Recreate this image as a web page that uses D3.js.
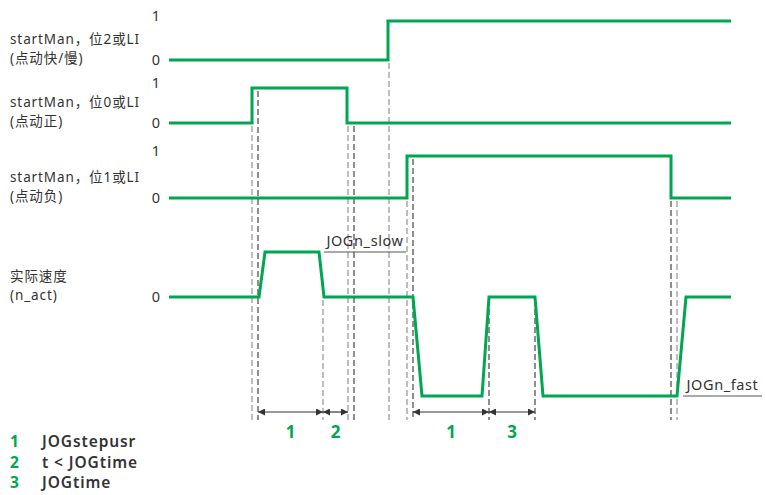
<!DOCTYPE html>
<html><head><meta charset="utf-8">
<script src="https://cdn.jsdelivr.net/npm/d3@7"></script>
<style>
html,body{margin:0;padding:0;background:#fff;}
svg{display:block;}
text{font-family:"Noto Sans","Noto Sans CJK SC",sans-serif;fill:#333;}
</style></head>
<body><svg id="c" width="766" height="495"></svg>
<script>
// ---- data ----
const rowNames = ["fastslow","pos","neg","speed"];
const rowLabels = [
  ["startMan，位2或LI","(点动快/慢)"],
  ["startMan，位0或LI","(点动正)"],
  ["startMan，位1或LI","(点动负)"],
  ["实际速度","(n_act)"]
];
const rowTickLabels = [["1","0"],["1","0"],["1","0"],["0"]];
const rowTickValues = [[1,0],[1,0],[1,0],[0]];
const sigFastSlow = [[0,0],[219,0],[219,1],[562,1]];
const sigPos = [[0,0],[83,0],[83,1],[178,1],[178,0],[562,0]];
const sigNeg = [[0,0],[238,0],[238,1],[502,1],[502,0],[562,0]];
const sigSpeed = [[0,0],[90,0],[96,1],[150,1],[155,0],[244,0],[253,-2.2],[313,-2.2],[320,0],[366,0],[374,-2.2],[508,-2.2],[517,0],[562,0]];
// markers: time, row, level where the dashed line starts, dark?
const markerTimes  = [83, 89, 154, 179, 185, 220, 238, 244, 320, 366, 502, 508];
const markerRows   = ["pos","pos","speed","pos","pos","fastslow","neg","neg","speed","speed","neg","neg"];
const markerLevels = [0, 1, 0, 0, 0, 0, 0, 1, 0, 0, 0, 0];
const markerDark   = [false,true,false,false,true,false,false,true,true,true,true,false];
// intervals
const intervalStart = [89, 154, 244, 320];
const intervalEnd   = [154, 179, 320, 366];
const intervalLabel = ["1","2","1","3"];
// speed annotations
const annoText  = ["JOGn_slow","JOGn_fast"];
const annoLevel = [1, -2.2];
const annoStart = [155, 514];
const annoEnd   = [237, 593];
// legend
const legendNums = ["1","2","3"];
const legendText = ["JOGstepusr","t < JOGtime","JOGtime"];

// ---- scales ----
const green = "#00a651";
const svg = d3.select("#c");
const x = d3.scaleLinear().domain([0,562]).range([169,731]);
const yScales = {
  fastslow: d3.scaleLinear().domain([0,1]).range([60,21]),
  pos: d3.scaleLinear().domain([0,1]).range([123,88]),
  neg: d3.scaleLinear().domain([0,1]).range([198,156]),
  speed: d3.scaleLinear().domain([0,1]).range([297,252])
};
const signals = {fastslow:sigFastSlow,pos:sigPos,neg:sigNeg,speed:sigSpeed};
const yBottom = 420;

// dashed markers
svg.append("g").selectAll("line").data(markerTimes).join("line")
  .attr("x1",d=>x(d)).attr("x2",d=>x(d))
  .attr("y1",(d,i)=>yScales[markerRows[i]](markerLevels[i])+3)
  .attr("y2",yBottom)
  .attr("stroke",(d,i)=>markerDark[i]?"#333":"#888")
  .attr("stroke-width",1.1)
  .attr("stroke-dasharray","6,3");

// signals
rowNames.forEach(r=>{
  const line = d3.line().x(d=>x(d[0])).y(d=>yScales[r](d[1]));
  svg.append("path").datum(signals[r]).attr("d",line)
    .attr("fill","none").attr("stroke",green).attr("stroke-width",3)
    .attr("stroke-linejoin","miter");
});

// row labels and level ticks
rowNames.forEach((r,i)=>{
  const y0 = yScales[r](0);
  rowLabels[i].forEach((t,j)=>{
    svg.append("text").attr("x",10).attr("y",y0 + (j===0?-16:3))
      .attr("font-size",13.5).attr("letter-spacing",0.9).text(t);
  });
  rowTickValues[i].forEach((v,j)=>{
    svg.append("text").attr("x",156).attr("y",yScales[r](v)+(v===1?-5:0))
      .attr("dy","0.36em").attr("text-anchor","middle").attr("font-size",14.5)
      .text(rowTickLabels[i][j]);
  });
});

// arrow markers
const defs = svg.append("defs");
defs.append("marker").attr("id","ah").attr("viewBox","0 0 10 10")
  .attr("refX",10).attr("refY",5).attr("markerWidth",11).attr("markerHeight",7)
  .attr("markerUnits","userSpaceOnUse").attr("orient","auto-start-reverse")
  .append("path").attr("d","M0,0L10,5L0,10Z").attr("fill","#333");

const arrowY = 412;
svg.append("g").selectAll("line").data(intervalStart).join("line")
  .attr("x1",d=>x(d)).attr("x2",(d,i)=>x(intervalEnd[i]))
  .attr("y1",arrowY).attr("y2",arrowY)
  .attr("stroke","#333").attr("stroke-width",1.2)
  .attr("marker-start","url(#ah)").attr("marker-end","url(#ah)");
svg.append("g").selectAll("text").data(intervalStart).join("text")
  .attr("x",(d,i)=>(x(d)+x(intervalEnd[i]))/2)
  .attr("y",438).attr("text-anchor","middle")
  .attr("font-size",17).attr("font-weight","bold")
  .style("fill",green).text((d,i)=>intervalLabel[i]);

// annotations
annoText.forEach((t,i)=>{
  const yy = yScales.speed(annoLevel[i]);
  svg.append("line").attr("x1",x(annoStart[i])).attr("x2",x(annoEnd[i]))
    .attr("y1",yy).attr("y2",yy).attr("stroke","#555").attr("stroke-width",1);
  svg.append("text").attr("x",(x(annoStart[i])+x(annoEnd[i]))/2).attr("y",yy-6)
    .attr("text-anchor","middle").attr("font-size",14.5).attr("letter-spacing",0.6).text(t);
});

// legend
legendNums.forEach((n,i)=>{
  const yy = 447 + i*20.5;
  svg.append("text").attr("x",10).attr("y",yy).attr("font-size",15.5)
    .attr("font-weight","bold").style("fill",green).text(n);
  svg.append("text").attr("x",42).attr("y",yy).attr("font-size",15.5)
    .attr("font-weight",600).attr("letter-spacing",0.9).text(legendText[i]);
});
</script></body></html>
